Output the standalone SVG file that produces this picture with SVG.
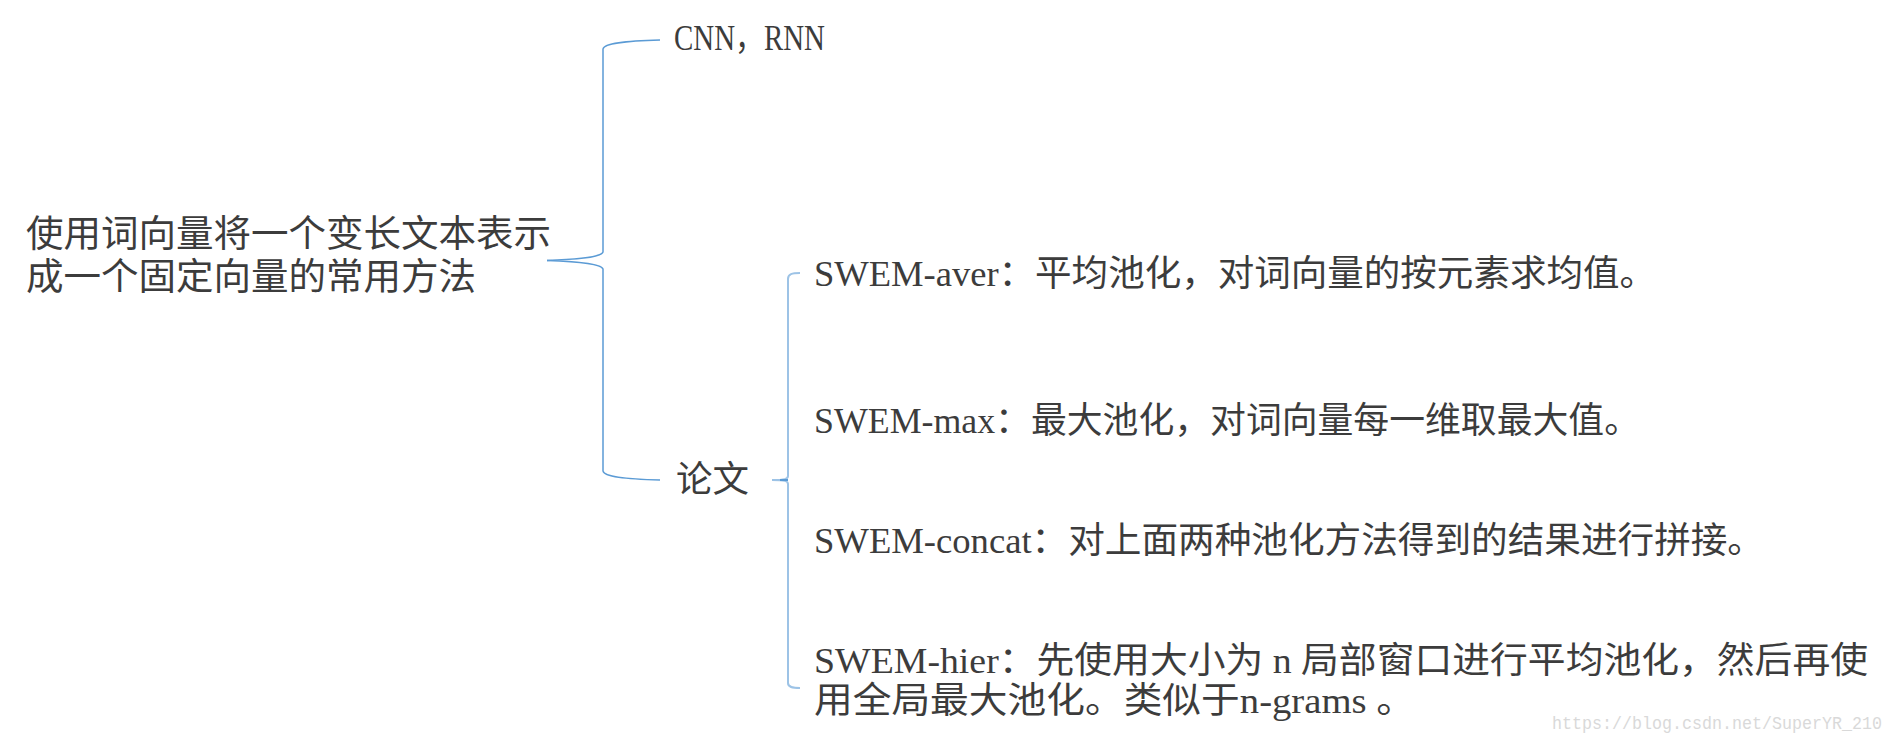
<svg xmlns="http://www.w3.org/2000/svg" width="1894" height="744" viewBox="0 0 1894 744">
<style>
.t{font-family:"Liberation Serif","Noto Sans CJK SC",serif;fill:#3c3c3c}
.root{font-size:37px}
.item{font-size:36px}
.wm{font-family:"Liberation Mono","Noto Sans CJK SC",monospace;font-size:19px;fill:#d9d9d9}
.brace{fill:none;stroke:#5b9bd5;stroke-width:1.5}
.bracket{fill:none;stroke:#9dc3e6;stroke-width:2}
</style>
<rect width="1894" height="744" fill="#ffffff"/>
<g id="connectors">
<path class="brace" d="M547,260.5 C572,259.5 601,258 603,252 L603,49 C604,43 625,41 660,40"/>
<path class="brace" d="M547,260.5 C572,261.5 601,263 603,269 L603,471 C604,477 625,479 660,480"/>
<path class="bracket" d="M800,273 C792,273 788,274 788,279 L788,476 C788,479 785,480 772,480"/>
<path class="bracket" d="M772,480 C785,480 788,481 788,484 L788,683 C788,687 792,688 800,688"/>
<path d="M780,480 L788,480" stroke="#5b9bd5" stroke-width="2" fill="none"/>
</g>
<g id="root">
<text class="t root" x="26" y="247" textLength="525" lengthAdjust="spacingAndGlyphs">使用词向量将一个变长文本表示</text>
<text class="t root" x="26" y="290" textLength="450" lengthAdjust="spacingAndGlyphs">成一个固定向量的常用方法</text>
</g>
<g id="node-cnn">
<text class="t item" x="674" y="50" textLength="151" lengthAdjust="spacingAndGlyphs">CNN，RNN</text>
</g>
<g id="node-paper">
<text class="t item" x="676" y="492" textLength="73" lengthAdjust="spacingAndGlyphs">论文</text>
</g>
<g id="node-aver">
<text class="t item" x="814" y="286" textLength="842" lengthAdjust="spacingAndGlyphs">SWEM-aver：平均池化，对词向量的按元素求均值。</text>
</g>
<g id="node-max">
<text class="t item" x="814" y="433" textLength="826" lengthAdjust="spacingAndGlyphs">SWEM-max：最大池化，对词向量每一维取最大值。</text>
</g>
<g id="node-concat">
<text class="t item" x="814" y="553" textLength="950" lengthAdjust="spacingAndGlyphs">SWEM-concat：对上面两种池化方法得到的结果进行拼接。</text>
</g>
<g id="node-hier">
<text class="t item" x="814" y="673" textLength="1054" lengthAdjust="spacingAndGlyphs">SWEM-hier：先使用大小为 n 局部窗口进行平均池化，然后再使</text>
<text class="t item" x="814" y="713" textLength="601" lengthAdjust="spacingAndGlyphs">用全局最大池化。类似于n-grams 。</text>
</g>
<text class="wm" x="1552" y="729" textLength="330" lengthAdjust="spacingAndGlyphs">https://blog.csdn.net/SuperYR_210</text>
</svg>
